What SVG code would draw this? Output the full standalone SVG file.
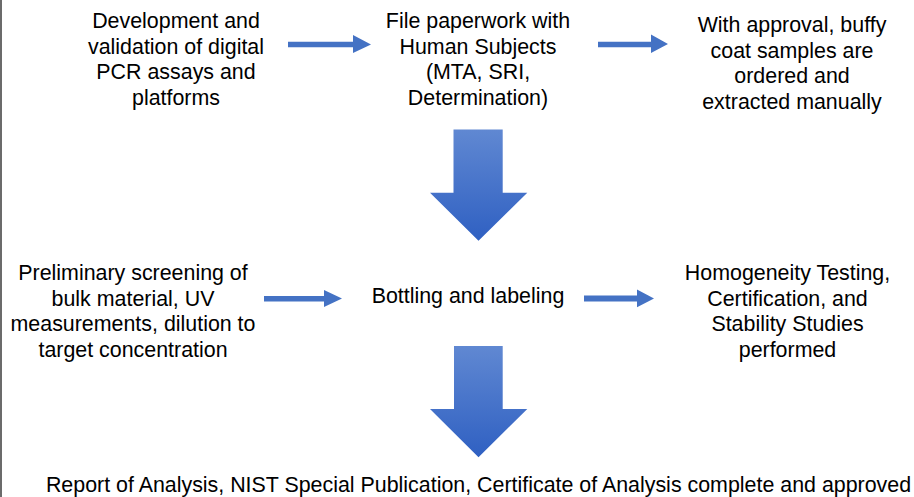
<svg xmlns="http://www.w3.org/2000/svg" width="914" height="497" viewBox="0 0 914 497">
<style>
.t{font-family:"Liberation Sans",Arial,sans-serif;font-size:21.4px;fill:#000;text-anchor:middle}
.h{fill:#4472c4}
</style>
<defs>
<linearGradient id="g" x1="0" y1="0" x2="0" y2="1">
<stop offset="0" stop-color="#6088d2"/>
<stop offset="1" stop-color="#2f60c2"/>
</linearGradient>
</defs>
<rect x="0" y="0" width="914" height="497" fill="#fff"/>
<rect x="0" y="0" width="2" height="497" fill="#6b6b6b"/>
<g id="n1"><text class="t" x="176" y="28">Development and</text><text class="t" x="176" y="53.5">validation of digital</text><text class="t" x="176" y="79">PCR assays and</text><text class="t" x="176" y="104.5">platforms</text></g>
<g id="n2"><text class="t" x="478" y="28">File paperwork with</text><text class="t" x="478" y="53.5">Human Subjects</text><text class="t" x="478" y="79">(MTA, SRI,</text><text class="t" x="478" y="104.5">Determination)</text></g>
<g id="n3"><text class="t" x="792" y="32">With approval, buffy</text><text class="t" x="792" y="57.5">coat samples are</text><text class="t" x="792" y="83">ordered and</text><text class="t" x="792" y="108.5">extracted manually</text></g>
<g id="n4"><text class="t" x="133" y="280">Preliminary screening of</text><text class="t" x="133" y="305.5">bulk material, UV</text><text class="t" x="133" y="331">measurements, dilution to</text><text class="t" x="133" y="356.5">target concentration</text></g>
<g id="n5"><text class="t" x="468" y="303">Bottling and labeling</text></g>
<g id="n6"><text class="t" x="787.5" y="280">Homogeneity Testing,</text><text class="t" x="787.5" y="305.5">Certification, and</text><text class="t" x="787.5" y="331">Stability Studies</text><text class="t" x="787.5" y="356.5">performed</text></g>
<g id="n7"><text class="t" x="478.5" y="492">Report of Analysis, NIST Special Publication, Certificate of Analysis complete and approved</text></g>
<g id="connectors">
<polygon class="h" points="288,41.8 353,41.8 353,35 371,44.5 353,53 353,47.3 288,47.3"/>
<polygon class="h" points="598,41.8 651,41.8 651,34.5 668,44 651,53 651,47.3 598,47.3"/>
<polygon class="h" points="264,296 324,296 324,290 342,298.5 324,307 324,301.5 264,301.5"/>
<polygon class="h" points="584,295.5 637,295.5 637,289.5 654,298.5 637,307.3 637,301.5 584,301.5"/>
<polygon fill="url(#g)" points="453.5,129.5 502.7,129.5 502.7,192.7 527.3,192.7 478.5,240.7 430,192.7 453.5,192.7"/>
<polygon fill="url(#g)" points="454,346 502.7,346 502.7,409 527.3,409 478.5,457.3 430,409 454,409"/>
</g>
</svg>
